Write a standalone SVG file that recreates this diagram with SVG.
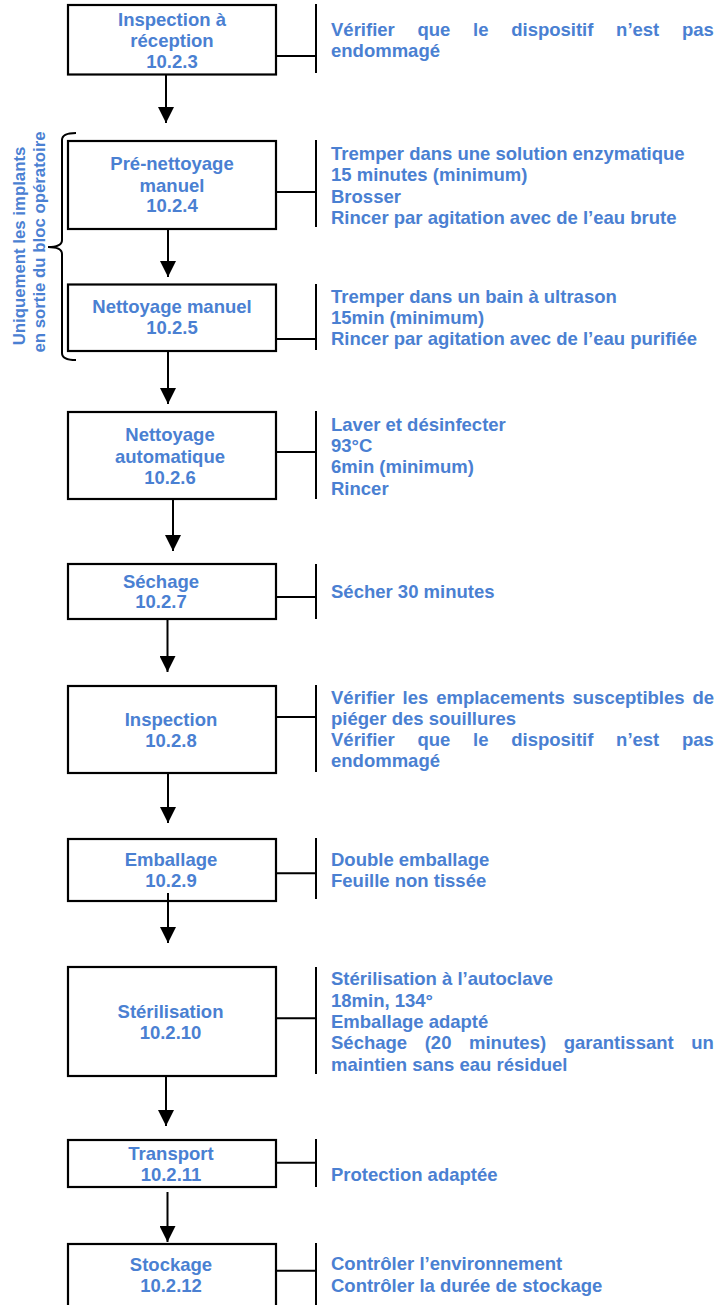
<svg xmlns="http://www.w3.org/2000/svg" width="716" height="1305" viewBox="0 0 716 1305">
<style>
.box{fill:#fff;stroke:#000;stroke-width:2.2}
.ln{fill:none;stroke:#000;stroke-width:2}
.t{font-family:"Liberation Sans",Arial,sans-serif;font-weight:bold;font-size:18.5px;fill:#4a80d2}
.c{text-anchor:middle}
.rot{font-family:"Liberation Sans",Arial,sans-serif;font-weight:bold;font-size:16.8px;fill:#4a80d2;text-anchor:middle}
</style>
<defs>
<marker id="ah" markerUnits="userSpaceOnUse" markerWidth="16" markerHeight="16" viewBox="0 0 16 16" refX="16" refY="8" orient="auto">
<path d="M0,0 L16,8 L0,16 z" fill="#000"/>
</marker>
</defs>
<rect width="716" height="1305" fill="#fff"/>

<g id="brace">
<path class="ln" stroke-width="1.6" d="M76,133 Q62,133 62,140 L62,240 Q62,247 48,247 Q62,247 62,254 L62,353 Q62,360 76,360"/>
<text class="rot" transform="translate(25,246) rotate(-90)">Uniquement les implants</text>
<text class="rot" transform="translate(45,242) rotate(-90)">en sortie du bloc opératoire</text>
</g>

<g id="n1">
<rect class="box" x="68" y="5" width="208" height="69.5"/>
<text class="t c" x="172" y="26">Inspection à</text>
<text class="t c" x="172" y="47">réception</text>
<text class="t c" x="172" y="68">10.2.3</text>
<path class="ln" d="M276,56 H316 M316,4 V73"/>
<text class="t" y="35.5"><tspan x="331">Vérifier</tspan><tspan x="417.5">que</tspan><tspan x="473.1">le</tspan><tspan x="511.2">dispositif</tspan><tspan x="616.1">n’est</tspan><tspan x="682">pas</tspan></text>
<text class="t" x="331" y="57">endommagé</text>
</g>

<g id="n2">
<rect class="box" x="68" y="141" width="208" height="88"/>
<text class="t c" x="172" y="170">Pré-nettoyage</text>
<text class="t c" x="172" y="191.5">manuel</text>
<text class="t c" x="172" y="212.3">10.2.4</text>
<path class="ln" d="M276,192 H316 M316,140 V227"/>
<text class="t" x="331" y="160">Tremper dans une solution enzymatique</text>
<text class="t" x="331" y="181.3">15 minutes (minimum)</text>
<text class="t" x="331" y="202.7">Brosser</text>
<text class="t" x="331" y="224">Rincer par agitation avec de l’eau brute</text>
</g>

<g id="n3">
<rect class="box" x="68" y="284.5" width="208" height="66.5"/>
<text class="t c" x="172" y="313.3">Nettoyage manuel</text>
<text class="t c" x="172" y="334.3">10.2.5</text>
<path class="ln" d="M276,339 H316 M316,284 V350"/>
<text class="t" x="331" y="302.7">Tremper dans un bain à ultrason</text>
<text class="t" x="331" y="324">15min (minimum)</text>
<text class="t" x="331" y="345">Rincer par agitation avec de l’eau purifiée</text>
</g>

<g id="n4">
<rect class="box" x="68" y="412" width="208" height="87"/>
<text class="t c" x="170" y="440.7">Nettoyage</text>
<text class="t c" x="170" y="462.7">automatique</text>
<text class="t c" x="170" y="484">10.2.6</text>
<path class="ln" d="M276,452 H316 M316,411 V499"/>
<text class="t" x="331" y="430.7">Laver et désinfecter</text>
<text class="t" x="331" y="452">93°C</text>
<text class="t" x="331" y="473.3">6min (minimum)</text>
<text class="t" x="331" y="494.7">Rincer</text>
</g>

<g id="n5">
<rect class="box" x="68" y="564" width="208" height="55"/>
<text class="t c" x="161" y="588">Séchage</text>
<text class="t c" x="161" y="608.3">10.2.7</text>
<path class="ln" d="M276,597 H316 M316,564 V619"/>
<text class="t" x="331" y="598.3">Sécher 30 minutes</text>
</g>

<g id="n6">
<rect class="box" x="68" y="686" width="208" height="87"/>
<text class="t c" x="171" y="726">Inspection</text>
<text class="t c" x="171" y="746.7">10.2.8</text>
<path class="ln" d="M276,717 H316 M316,685 V772"/>
<text class="t" y="703.5"><tspan x="331">Vérifier</tspan><tspan x="402.6">les</tspan><tspan x="436.2">emplacements</tspan><tspan x="572.5">susceptibles</tspan><tspan x="692.4">de</tspan></text>
<text class="t" x="331" y="724.5">piéger des souillures</text>
<text class="t" y="746"><tspan x="331">Vérifier</tspan><tspan x="417.5">que</tspan><tspan x="473.1">le</tspan><tspan x="511.2">dispositif</tspan><tspan x="616.1">n’est</tspan><tspan x="682">pas</tspan></text>
<text class="t" x="331" y="767">endommagé</text>
</g>

<g id="n7">
<rect class="box" x="68" y="839" width="208" height="62"/>
<text class="t c" x="171" y="865.7">Emballage</text>
<text class="t c" x="171" y="887.3">10.2.9</text>
<path class="ln" d="M276,873.3 H316 M316,838 V899"/>
<text class="t" x="331" y="865.7">Double emballage</text>
<text class="t" x="331" y="887.3">Feuille non tissée</text>
</g>

<g id="n8">
<rect class="box" x="68" y="967" width="208" height="109"/>
<text class="t c" x="170.5" y="1018.3">Stérilisation</text>
<text class="t c" x="170.5" y="1039">10.2.10</text>
<path class="ln" d="M276,1018.3 H316 M316,967 V1074"/>
<text class="t" x="331" y="985">Stérilisation à l’autoclave</text>
<text class="t" x="331" y="1006.7">18min, 134°</text>
<text class="t" x="331" y="1028.3">Emballage adapté</text>
<text class="t" y="1049.3"><tspan x="331">Séchage</tspan><tspan x="424.7">(20</tspan><tspan x="469">minutes)</tspan><tspan x="563.7">garantissant</tspan><tspan x="691.3">un</tspan></text>
<text class="t" x="331" y="1070.7">maintien sans eau résiduel</text>
</g>

<g id="n9">
<rect class="box" x="68" y="1140" width="208" height="47"/>
<text class="t c" x="171" y="1160">Transport</text>
<text class="t c" x="171" y="1180.7">10.2.11</text>
<path class="ln" d="M276,1162.7 H316 M316,1139 V1187"/>
<text class="t" x="331" y="1180.7">Protection adaptée</text>
</g>

<g id="n10">
<rect class="box" x="68" y="1244" width="208" height="80"/>
<text class="t c" x="171" y="1270.7">Stockage</text>
<text class="t c" x="171" y="1292.3">10.2.12</text>
<path class="ln" d="M276,1270.7 H316 M316,1243 V1310"/>
<text class="t" x="331" y="1270">Contrôler l’environnement</text>
<text class="t" x="331" y="1291.7">Contrôler la durée de stockage</text>
</g>

<g id="connectors" class="ln">
<line x1="166" y1="75" x2="166" y2="123" marker-end="url(#ah)"/>
<line x1="168" y1="229" x2="168" y2="277" marker-end="url(#ah)"/>
<line x1="168" y1="351" x2="168" y2="404" marker-end="url(#ah)"/>
<line x1="173" y1="499" x2="173" y2="551" marker-end="url(#ah)"/>
<line x1="167.5" y1="619" x2="167.5" y2="672" marker-end="url(#ah)"/>
<line x1="168" y1="773" x2="168" y2="823" marker-end="url(#ah)"/>
<line x1="168" y1="893" x2="168" y2="943" marker-end="url(#ah)"/>
<line x1="166" y1="1076" x2="166" y2="1126" marker-end="url(#ah)"/>
<line x1="167.5" y1="1192" x2="167.5" y2="1242" marker-end="url(#ah)"/>
</g>
</svg>
